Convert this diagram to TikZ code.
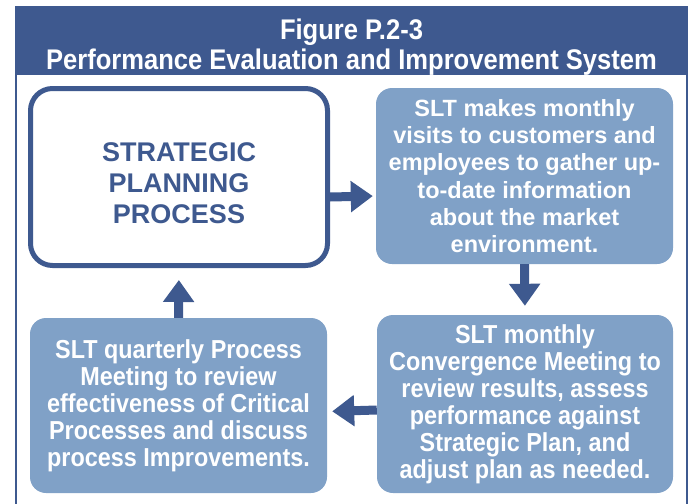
\documentclass[tikz,border=0pt]{standalone}
\usepackage{fontspec}
\setmainfont{Liberation Sans}
\newfontfamily\narrowfont{Liberation Sans}[FakeStretch=0.9]
\newfontfamily\titlefont{Liberation Sans}[FakeStretch=0.9]
\usetikzlibrary{arrows.meta}
\definecolor{dkblue}{RGB}{62,89,143}
\definecolor{ltblue}{RGB}{128,161,199}
\tikzset{
  stratbox/.style={draw=dkblue, line width=5pt, fill=white, rounded corners=22pt,
    minimum width=297pt, minimum height=177pt, inner sep=0pt},
  strattext/.style={text=dkblue, align=center, font=\fontsize{27}{31}\selectfont\bfseries},
  lightbox/.style={fill=ltblue, rounded corners=16pt, inner sep=0pt, align=center, text=white},
  toptext/.style={font=\fontsize{23.5}{27.2}\selectfont\bfseries},
  bottext/.style={font=\narrowfont\fontsize{26}{27}\selectfont\bfseries},
  flowarrow/.style={draw=dkblue, line width=9pt, -{Triangle[width=30pt,length=22pt]}},
}
\begin{document}
\begin{tikzpicture}[x=1pt,y=-1pt]
\useasboundingbox (0,0) rectangle (692,503);
% frame and title band
\fill[dkblue] (16,7) rectangle (687,75);
\draw[dkblue, line width=2pt] (16,504) -- (16,7) -- (687,7) -- (687,504);
\node[text=white, align=center, font=\titlefont\fontsize{28.4}{30.5}\selectfont\bfseries] (title) at (351.5,47)
  {Figure P.2-3\\Performance Evaluation and Improvement System};
% boxes
\node[stratbox] (strat) at (179,177) {};
\node[strattext] (strattxt) at ([yshift=-6pt]strat.center) {STRATEGIC\\PLANNING\\PROCESS};
\node[lightbox, toptext, minimum width=297pt, minimum height=176pt] (visit) at (524.5,176)
  {SLT makes monthly\\visits to customers and\\employees to gather up-\\to-date information\\about the market\\environment.};
\node[lightbox, bottext, minimum width=296pt, minimum height=178pt] (conv) at (525,404)
  {SLT monthly\\Convergence Meeting to\\review results, assess\\performance against\\Strategic Plan, and\\adjust plan as needed.};
\node[lightbox, bottext, minimum width=297pt, minimum height=175pt] (quart) at (178.5,405.5)
  {SLT quarterly Process\\Meeting to review\\effectiveness of Critical\\Processes and discuss\\process Improvements.};
% arrows
\draw[flowarrow, shorten >=3pt] ([yshift=-20pt]strat.east) -- ([yshift=-20pt]visit.west);
\draw[flowarrow, shorten >=9pt] (visit.south) -- (conv.north);
\draw[flowarrow, shorten >=5pt] ([yshift=-6pt]conv.west) -- ([yshift=-6pt]quart.east);
\draw[flowarrow, shorten >=12pt] (quart.north) -- (strat.south);
\end{tikzpicture}
\end{document}
